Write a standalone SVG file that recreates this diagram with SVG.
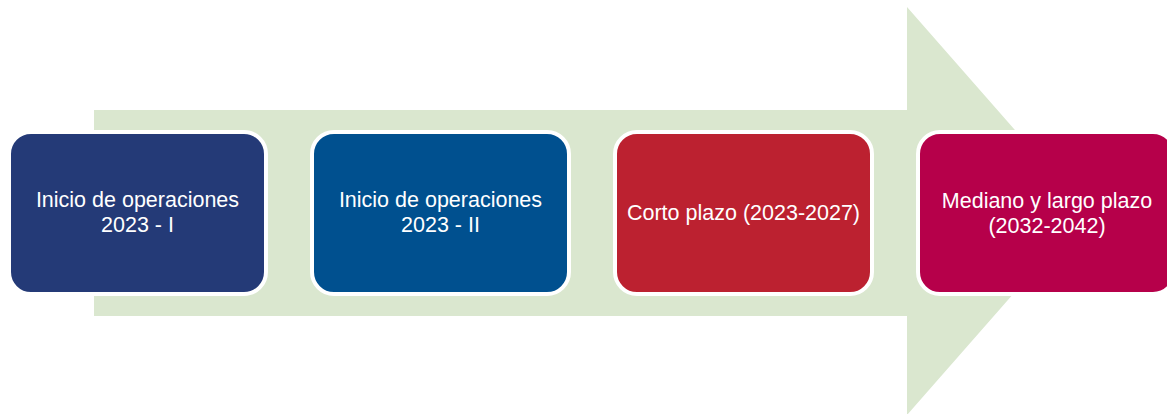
<svg xmlns="http://www.w3.org/2000/svg" width="1167" height="414" viewBox="0 0 1167 414">
<style>
.box{stroke:#ffffff;stroke-width:4}
.t{font-family:"Liberation Sans","Open Sans",sans-serif;font-size:21.5px;fill:#ffffff;text-anchor:middle}
</style>
<rect width="1167" height="414" fill="#ffffff"/>
<g id="arrow">
<polygon points="94,110 907,110 907,7 1086,211 907,415 907,316 94,316" fill="#dae7cf"/>
</g>
<g id="node1">
<rect class="box" x="9" y="132" width="257" height="162" rx="22" fill="#243a77"/>
<text class="t" x="137.5" y="207">Inicio de operaciones</text>
<text class="t" x="137.5" y="232">2023 - I</text>
</g>
<g id="node2">
<rect class="box" x="312" y="132" width="257" height="162" rx="22" fill="#00508f"/>
<text class="t" x="440.5" y="207">Inicio de operaciones</text>
<text class="t" x="440.5" y="232">2023 - II</text>
</g>
<g id="node3">
<rect class="box" x="615" y="132" width="257" height="162" rx="22" fill="#bc2130"/>
<text class="t" x="743.5" y="220">Corto plazo (2023-2027)</text>
</g>
<g id="node4">
<rect class="box" x="918" y="132" width="257" height="162" rx="22" fill="#b6004a"/>
<text class="t" x="1047" y="208">Mediano y largo plazo</text>
<text class="t" x="1047" y="233">(2032-2042)</text>
</g>
<g id="connectors"></g>
</svg>
